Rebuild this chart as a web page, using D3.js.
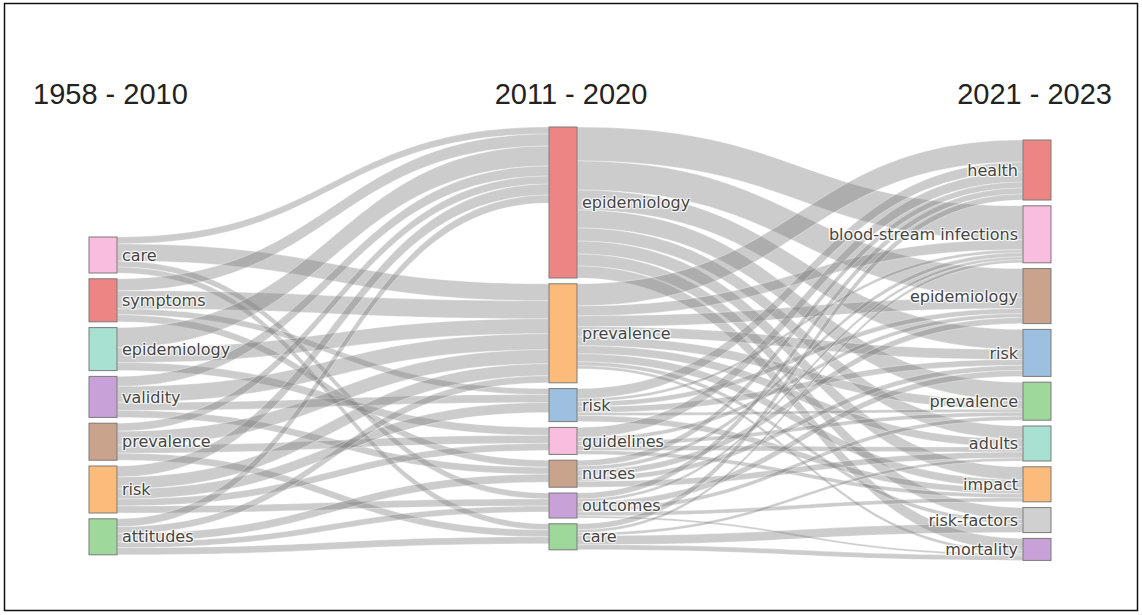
<!DOCTYPE html>
<html>
<head>
<meta charset="utf-8">
<script src="https://cdn.jsdelivr.net/npm/d3@7"></script>
<style>
  html, body { margin: 0; padding: 0; background: #fff; }
  svg { display: block; }
  .nlabel { font-family: "DejaVu Sans", Verdana, sans-serif; font-size: 16px; fill: #444;
            text-shadow: 1px 1px 1px #fff, 1px -1px 1px #fff, -1px 1px 1px #fff, -1px -1px 1px #fff; }
  .title { font-family: "Liberation Sans", Arial, sans-serif; font-size: 29px; fill: #222; }
</style>
</head>
<body>
<svg id="chart" width="1142" height="615"></svg>
<script>
// ---------------- DATA ----------------
const columnTitles = ["1958 - 2010", "2011 - 2020", "2021 - 2023"];

const leftNodes  = ["care", "symptoms", "epidemiology", "validity", "prevalence", "risk", "attitudes"];
const midNodes   = ["epidemiology", "prevalence", "risk", "guidelines", "nurses", "outcomes", "care"];
const rightNodes = ["health", "blood-stream infections", "epidemiology", "risk", "prevalence",
                    "adults", "impact", "risk-factors", "mortality"];

const leftColors  = ["#f9bddf", "#ee8585", "#a8e1d2", "#c8a1d8", "#caa38d", "#fdbb7b", "#9fd89b"];
const midColors   = ["#ee8585", "#fdbb7b", "#9dc0e0", "#f9bddf", "#caa38d", "#c8a1d8", "#9fd89b"];
const rightColors = ["#ee8585", "#f9bddf", "#caa38d", "#9dc0e0", "#9fd89b", "#a8e1d2", "#fdbb7b", "#d0d0d0", "#c8a1d8"];

// rows: left nodes, columns: middle nodes
const leftToMid = [
  [ 7, 17,  0,  0,  0,  6,  6],   // care
  [12, 18,  6,  0,  7,  0,  0],   // symptoms
  [20, 15,  0,  8,  0,  0,  0],   // epidemiology
  [10, 16,  8,  0,  7,  0,  0],   // validity
  [ 8, 14,  0,  8,  0,  0,  7],   // prevalence
  [11, 12, 10,  7,  0,  7,  0],   // risk
  [ 8,  7,  0,  0,  8,  6,  7]    // attitudes
];
// rows: middle nodes, columns: right nodes
const midToRight = [
  [ 0, 34, 29, 20, 18, 13, 13, 12, 12],  // epidemiology
  [22, 10, 11, 10,  9,  8,  8,  4,  3],  // prevalence
  [10,  3,  5,  6,  3,  0,  6,  0,  0],  // risk
  [10,  0,  4,  0,  4,  5,  4,  0,  0],  // guidelines
  [ 6,  4,  6,  5,  0,  6,  0,  0,  0],  // nurses
  [ 6,  3,  0,  6,  4,  0,  4,  0,  2],  // outcomes
  [ 6,  3,  0,  0,  0,  3,  0,  9,  5]   // care
];

// ---------------- LAYOUT ----------------
const svg = d3.select("#chart");
const nodeW = 28, gap = 5.8;
const colX = [89, 549, 1023];
const colTop = [237, 127, 140];
const vScale = d3.scaleLinear().domain([0, 100]).range([0, 100]);

// border
svg.append("rect").attr("x", 4.5).attr("y", 3.5).attr("width", 1133).attr("height", 607)
   .attr("fill", "none").attr("stroke", "#111").attr("stroke-width", 1.5);

const columns = [
  leftNodes.map((n, i) => ({name: n, col: 0, idx: i, color: leftColors[i]})),
  midNodes.map((n, i) => ({name: n, col: 1, idx: i, color: midColors[i]})),
  rightNodes.map((n, i) => ({name: n, col: 2, idx: i, color: rightColors[i]}))
];
const links = [];
leftToMid.forEach((row, i) => row.forEach((v, j) => { if (v > 0) links.push({source: columns[0][i], target: columns[1][j], value: v}); }));
midToRight.forEach((row, i) => row.forEach((v, j) => { if (v > 0) links.push({source: columns[1][i], target: columns[2][j], value: v}); }));

columns.flat().forEach(n => { n.out = []; n.in = []; });
links.forEach(l => { l.source.out.push(l); l.target.in.push(l); });
columns.flat().forEach(n => {
  n.value = Math.max(d3.sum(n.out, l => l.value), d3.sum(n.in, l => l.value));
});
columns.forEach((col, c) => {
  let y = colTop[c];
  col.forEach(n => {
    n.x0 = colX[c]; n.x1 = colX[c] + nodeW;
    n.y0 = y; n.y1 = y + vScale(n.value);
    y = n.y1 + gap;
  });
});
columns.flat().forEach(n => {
  n.out.sort((a, b) => a.target.y0 - b.target.y0);
  n.in.sort((a, b) => a.source.y0 - b.source.y0);
  let y = n.y0;
  n.out.forEach(l => { l.sy0 = y; y += vScale(l.value); l.sy1 = y; });
  y = n.y0;
  n.in.forEach(l => { l.ty0 = y; y += vScale(l.value); l.ty1 = y; });
});

function linkPath(l) {
  const x0 = l.source.x1, x1 = l.target.x0;
  const xi = d3.interpolateNumber(x0, x1);
  const c0 = xi(0.5), c1 = xi(0.5);
  return `M${x0},${l.sy0}C${c0},${l.sy0} ${c1},${l.ty0} ${x1},${l.ty0}` +
         `L${x1},${l.ty1}C${c1},${l.ty1} ${c0},${l.sy1} ${x0},${l.sy1}Z`;
}

svg.append("g").selectAll("path").data(links).join("path")
  .attr("d", linkPath)
  .attr("fill", "rgba(128,128,128,0.4)")
  .attr("stroke", "rgba(255,255,255,0.55)")
  .attr("stroke-width", 0.6);

const allNodes = columns.flat();
svg.append("g").selectAll("rect").data(allNodes).join("rect")
  .attr("x", d => d.x0).attr("y", d => d.y0)
  .attr("width", nodeW).attr("height", d => d.y1 - d.y0)
  .attr("fill", d => d.color)
  .attr("stroke", "#7a7a7a").attr("stroke-width", 1);

svg.append("g").selectAll("text").data(allNodes).join("text")
  .attr("class", "nlabel")
  .attr("x", d => d.col === 2 ? d.x0 - 5 : d.x1 + 5)
  .attr("y", d => (d.y0 + d.y1) / 2)
  .attr("dy", "0.35em")
  .attr("text-anchor", d => d.col === 2 ? "end" : "start")
  .text(d => d.name);

// column titles
const titleX = [33, 571, 1112];
const titleAnchor = ["start", "middle", "end"];
svg.append("g").selectAll("text").data(columnTitles).join("text")
  .attr("class", "title")
  .attr("x", (d, i) => titleX[i]).attr("y", 104)
  .attr("text-anchor", (d, i) => titleAnchor[i])
  .text(d => d);
</script>
</body>
</html>
